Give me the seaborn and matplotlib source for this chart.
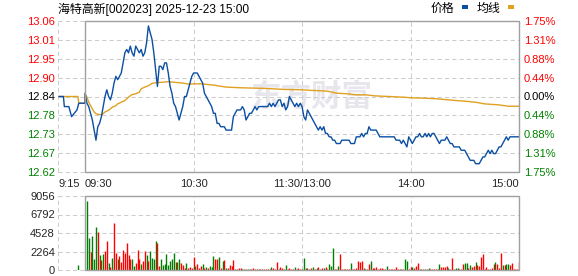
import matplotlib
matplotlib.use("Agg")
import matplotlib.pyplot as plt
from matplotlib.patches import Rectangle
import pandas as pd
import seaborn as sns

# ---------------- data ----------------
title = "海特高新[002023] 2025-12-23 15:00"
prev_close = 12.84
pct_levels = [1.75, 1.3125, 0.875, 0.4375, 0.0, -0.4375, -0.875, -1.3125, -1.75]
price_tick_labels = ["13.06", "13.01", "12.95", "12.90", "12.84", "12.78", "12.73", "12.67", "12.62"]
pct_tick_labels = ["1.75%", "1.31%", "0.88%", "0.44%", "0.00%", "0.44%", "0.88%", "1.31%", "1.75%"]
vol_ticks = [9056, 6792, 4528, 2264, 0]
time_ticks = [-15, 0, 60, 120, 180, 240]
time_labels = ["9:15", "09:30", "10:30", "11:30/13:00", "14:00", "15:00"]

# call auction 9:15-9:30 (minutes relative to 9:30)
pre_minutes = [-14.5, -12, -11.5, -9, -7.5, -4.5, -3.5, -0.01]
pre_prices = [12.84, 12.84, 12.81, 12.81, 12.78, 12.80, 12.82, 12.82]
pre_avg_minutes = [-14.5, -4, -3.5, -0.01]
pre_avg = [12.84, 12.84, 12.82, 12.82]
pre_vol_minute = [-4]
pre_vol = [620]

# one price per trading minute, 9:30 .. 15:00 (241 points)
prices = [
    12.85, 12.82, 12.81, 12.79, 12.77, 12.74, 12.71, 12.75, 12.76, 12.78,
    12.81, 12.84, 12.86, 12.84, 12.83, 12.85, 12.88, 12.90, 12.89, 12.90,
    12.91, 12.94, 12.97, 12.98, 12.97, 12.99, 12.97, 12.96, 12.99, 12.98,
    12.97, 12.98, 12.96, 12.97, 13.00, 13.05, 13.03, 13.01, 12.97, 12.92,
    12.87, 12.93, 12.93, 12.92, 12.94, 12.94, 12.91, 12.87, 12.85, 12.82,
    12.81, 12.79, 12.77, 12.79, 12.81, 12.84, 12.84, 12.86, 12.88, 12.90,
    12.91, 12.91, 12.91, 12.90, 12.89, 12.88, 12.85, 12.84, 12.83, 12.82,
    12.81, 12.79, 12.79, 12.76, 12.76, 12.75, 12.75, 12.75, 12.74, 12.74,
    12.74, 12.74, 12.78, 12.79, 12.80, 12.80, 12.80, 12.81, 12.80, 12.77,
    12.78, 12.79, 12.79, 12.80, 12.81, 12.80, 12.81, 12.81, 12.81, 12.81,
    12.81, 12.81, 12.82, 12.81, 12.82, 12.81, 12.82, 12.83, 12.83, 12.81,
    12.82, 12.80, 12.81, 12.84, 12.83, 12.82, 12.81, 12.82, 12.81, 12.82,
    12.81, 12.78, 12.77, 12.80, 12.79, 12.78, 12.77, 12.76, 12.75, 12.74,
    12.75, 12.74, 12.75, 12.73, 12.73, 12.72, 12.72, 12.71, 12.71, 12.70,
    12.70, 12.70, 12.71, 12.71, 12.71, 12.71, 12.71, 12.70, 12.70, 12.70,
    12.72, 12.72, 12.72, 12.73, 12.72, 12.73, 12.73, 12.75, 12.74, 12.74,
    12.74, 12.74, 12.73, 12.72, 12.72, 12.72, 12.72, 12.72, 12.72, 12.72,
    12.72, 12.72, 12.71, 12.71, 12.71, 12.70, 12.71, 12.70, 12.69, 12.72,
    12.71, 12.70, 12.71, 12.72, 12.72, 12.73, 12.72, 12.72, 12.73, 12.72,
    12.73, 12.72, 12.73, 12.73, 12.72, 12.71, 12.70, 12.71, 12.71, 12.71,
    12.72, 12.71, 12.70, 12.70, 12.69, 12.69, 12.69, 12.69, 12.68, 12.68,
    12.68, 12.67, 12.66, 12.65, 12.65, 12.65, 12.64, 12.64, 12.64, 12.65,
    12.66, 12.66, 12.67, 12.68, 12.67, 12.68, 12.67, 12.67, 12.68, 12.69,
    12.69, 12.70, 12.71, 12.72, 12.71, 12.72, 12.72, 12.72, 12.72, 12.72,
    12.72,
]

avg_minutes = [0, 1, 2, 3, 4, 5, 6, 7, 9, 10, 11, 13, 15, 17, 18, 20, 22, 24, 26, 28,
               30, 31, 33, 35, 37, 39, 42, 46, 50, 54, 57, 64, 71, 78, 86, 93, 100, 110, 119, 126,
               134, 139, 145, 150, 155, 160, 168, 176, 181, 188, 195, 203, 210, 216, 221, 229, 234, 240]
avg_prices = [12.848, 12.838, 12.823, 12.813, 12.803, 12.794, 12.789, 12.787, 12.786, 12.789,
              12.794, 12.799, 12.808, 12.813, 12.818, 12.823, 12.828, 12.838, 12.846, 12.848,
              12.853, 12.863, 12.868, 12.872, 12.879, 12.881, 12.882, 12.884, 12.882, 12.880,
              12.877, 12.878, 12.874, 12.868, 12.866, 12.865, 12.864, 12.861, 12.860, 12.858,
              12.856, 12.850, 12.848, 12.845, 12.845, 12.842, 12.840, 12.838, 12.836, 12.835,
              12.833, 12.829, 12.826, 12.823, 12.818, 12.815, 12.811, 12.811]

# volume per minute 9:31 .. 15:00 (240 bars), up = 1 red, 0 green
volumes = [
    8400, 3900, 2200, 4200, 1360, 5300, 4700, 1850, 1240, 2000,
    2350, 3580, 870, 330, 1480, 5730, 2100, 1360, 1730, 990,
    2470, 2100, 3340, 1850, 1360, 1360, 490, 870, 2470, 1360,
    740, 1110, 2350, 1850, 1110, 2350, 1480, 1360, 3580, 3250,
    490, 1360, 620, 740, 1980, 620, 1110, 1360, 2140, 990,
    990, 1360, 870, 620, 250, 870, 250, 370, 250, 1600,
    490, 740, 250, 490, 740, 250, 370, 250, 490, 370,
    1730, 1360, 1360, 1600, 250, 1110, 1240, 250, 250, 620,
    490, 1240, 120, 120, 250, 250, 120, 120, 150, 120,
    150, 120, 250, 120, 150, 120, 150, 120, 150, 120,
    150, 120, 370, 250, 120, 990, 120, 370, 250, 120,
    620, 120, 250, 120, 150, 370, 120, 250, 120, 150,
    1480, 250, 250, 120, 250, 370, 120, 250, 370, 120,
    250, 250, 370, 120, 740, 490, 2720, 120, 120, 490,
    1980, 120, 120, 120, 120, 120, 870, 120, 120, 250,
    1110, 990, 1110, 250, 120, 120, 740, 1110, 250, 250,
    370, 120, 250, 250, 120, 120, 490, 120, 120, 120,
    120, 370, 120, 120, 120, 120, 1360, 1110, 120, 370,
    370, 250, 490, 870, 120, 120, 120, 120, 120, 250,
    120, 120, 120, 120, 120, 740, 370, 370, 370, 490,
    250, 120, 1480, 120, 250, 250, 120, 120, 740, 870,
    870, 250, 620, 370, 490, 990, 620, 490, 1600, 1980,
    120, 370, 120, 120, 250, 740, 990, 740, 250, 2100,
    620, 620, 740, 740, 620, 870, 120, 120, 120, 990,
]
vol_up = [
    0, 0, 1, 0, 0, 0, 1, 0, 1, 0,
    1, 1, 0, 1, 0, 1, 1, 0, 1, 1,
    1, 1, 1, 1, 1, 0, 0, 1, 1, 1,
    0, 1, 1, 0, 1, 0, 0, 0, 0, 1,
    1, 0, 0, 0, 0, 0, 0, 0, 0, 1,
    0, 0, 1, 1, 1, 0, 1, 1, 1, 1,
    0, 1, 1, 1, 0, 1, 0, 1, 0, 0,
    0, 1, 1, 0, 1, 0, 1, 0, 1, 1,
    1, 1, 0, 1, 1, 1, 0, 0, 1, 0,
    1, 0, 1, 1, 0, 1, 1, 0, 1, 1,
    1, 1, 0, 1, 1, 1, 0, 1, 1, 0,
    0, 1, 1, 1, 1, 0, 1, 1, 1, 0,
    0, 1, 0, 1, 1, 0, 1, 0, 1, 1,
    1, 0, 1, 1, 0, 0, 0, 1, 1, 0,
    1, 1, 1, 1, 1, 1, 0, 1, 1, 1,
    1, 1, 1, 0, 1, 1, 1, 0, 1, 1,
    1, 1, 1, 1, 1, 1, 0, 1, 1, 1,
    1, 1, 1, 0, 1, 1, 0, 0, 1, 1,
    0, 1, 1, 1, 0, 1, 0, 0, 1, 0,
    1, 1, 1, 1, 1, 0, 1, 1, 1, 1,
    0, 1, 1, 1, 0, 0, 1, 1, 1, 0,
    0, 1, 0, 1, 1, 0, 1, 1, 1, 1,
    1, 1, 1, 1, 1, 1, 0, 1, 1, 1,
    0, 1, 0, 0, 1, 1, 1, 1, 1, 1,
]
pre_vol_up = [0]

# ---------------- style ----------------
sns.set_style("white")
plt.rcParams["font.family"] = ["Liberation Sans", "Noto Sans CJK SC", "DejaVu Sans"]

BLUE = "#0b4fa3"
ORANGE = "#e0a020"
RED = "#ff0000"
GREEN = "#008000"
GRID = "#cccccc"
FRAME = "#a0a0a0"
DASH = (0, (4, 3))

W, H = 578, 276
fig = plt.figure(figsize=(W / 100, H / 100), dpi=100, facecolor="white")


def box(x0, y0, x1, y1):
    return [x0 / W, 1 - y1 / H, (x1 - x0) / W, (y1 - y0) / H]


ax = fig.add_axes(box(58, 21, 519, 172))
axv = fig.add_axes(box(58, 196, 519, 270))

tick_pos = [prev_close * (1 + p / 100) for p in pct_levels]
ylo, yhi = min(tick_pos), max(tick_pos)

# ---- price panel ----
price_df = pd.DataFrame({
    "minute": pre_minutes + list(range(len(prices))),
    "price": pre_prices + prices,
})
avg_df = pd.DataFrame({
    "minute": pre_avg_minutes + avg_minutes,
    "price": pre_avg + avg_prices,
})
sns.lineplot(data=avg_df, x="minute", y="price", ax=ax, color=ORANGE, lw=1.0,
             estimator=None, sort=False, zorder=3)
sns.lineplot(data=price_df, x="minute", y="price", ax=ax, color=BLUE, lw=1.0,
             estimator=None, sort=False, zorder=4)

ax.set_xlim(-15, 240)
ax.set_ylim(ylo, yhi)
ax.set_xlabel("")
ax.set_ylabel("")
ax.set_yticks(tick_pos)
ax.set_yticklabels(price_tick_labels, fontsize=8)
for lab, p in zip(ax.get_yticklabels(), pct_levels):
    lab.set_color(RED if p > 0 else (GREEN if p < 0 else "black"))
ax.set_xticks(time_ticks)
ax.set_xticklabels(time_labels, fontsize=8)
xl = ax.get_xticklabels()
xl[0].set_ha("left")
xl[1].set_ha("left")
xl[-1].set_ha("right")
ax.tick_params(axis="both", length=0)
ax.tick_params(axis="y", pad=2.2)
ax.tick_params(axis="x", pad=5)
ax.grid(True, color=GRID, ls=DASH, lw=0.75)
for gl in ax.get_ygridlines() + ax.get_xgridlines():
    gl.set_clip_on(False)
for s in ax.spines.values():
    s.set_visible(False)
ax.add_patch(Rectangle((0, ylo), 240, yhi - ylo, fill=False, ec=FRAME, lw=1.0,
                       clip_on=False, zorder=6))

# right percent axis
ax2 = ax.twinx()
ax2.set_ylim(ylo, yhi)
ax2.set_yticks(tick_pos)
ax2.set_yticklabels(pct_tick_labels, fontsize=8)
for lab, p in zip(ax2.get_yticklabels(), pct_levels):
    lab.set_color(RED if p > 0 else (GREEN if p < 0 else "black"))
ax2.tick_params(axis="y", length=0, pad=3.6)
ax2.grid(False)
for s in ax2.spines.values():
    s.set_visible(False)

# watermark
ax.text(311 / W, 1 - 97 / H, "东方财富", transform=fig.transFigure, ha="center", va="center",
        fontsize=22, fontweight="bold", color="#e6e6ec", zorder=0,
        family=["Noto Sans CJK SC"])

# ---- volume panel ----
bar_x = pre_vol_minute + list(range(1, len(volumes) + 1))
bar_v = pre_vol + volumes
bar_c = [RED if u else GREEN for u in pre_vol_up + vol_up]
axv.vlines(bar_x, 0, bar_v, colors=bar_c, lw=1.0, zorder=3)
axv.set_xlim(-15, 240)
axv.set_ylim(0, max(vol_ticks))
axv.set_yticks(vol_ticks)
axv.set_yticklabels([str(v) for v in vol_ticks], fontsize=8)
axv.set_xticks(time_ticks[:-1])
axv.set_xticklabels([])
axv.tick_params(axis="both", length=0)
axv.tick_params(axis="y", pad=2.2)
axv.grid(True, color=GRID, ls=DASH, lw=0.75)
for gl in axv.get_ygridlines() + axv.get_xgridlines():
    gl.set_clip_on(False)
for s in axv.spines.values():
    s.set_visible(False)
axv.add_patch(Rectangle((0, 0), 240, max(vol_ticks), fill=False, ec=FRAME, lw=1.0,
                        clip_on=False, zorder=6))

# ---- title & legend ----
fig.text(58 / W, 1 - 9 / H, title, ha="left", va="center", fontsize=8.6, color="black")
fig.text(431 / W, 1 - 9 / H, "价格", ha="left", va="center", fontsize=8.6, color="black")
fig.text(477 / W, 1 - 9 / H, "均线", ha="left", va="center", fontsize=8.6, color="black")
fig.add_artist(Rectangle((462 / W, 1 - 8.5 / H), 5.5 / W, 3.5 / H, transform=fig.transFigure,
                         color=BLUE, lw=0))
fig.add_artist(Rectangle((508 / W, 1 - 8.5 / H), 5.5 / W, 3.5 / H, transform=fig.transFigure,
                         color=ORANGE, lw=0))

fig.savefig("out.png", dpi=100, facecolor="white")
